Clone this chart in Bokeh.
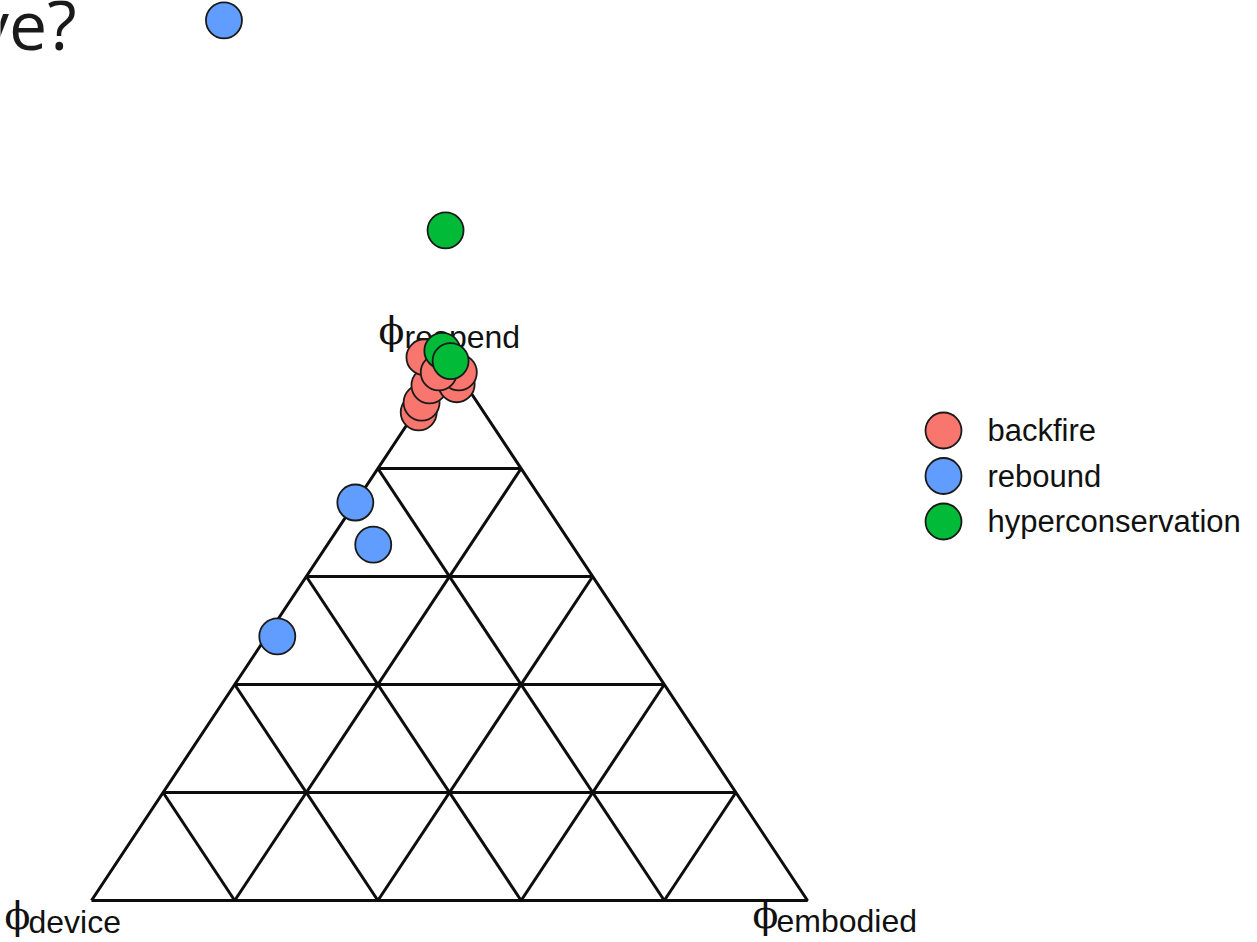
from bokeh.plotting import figure
from bokeh.models import Range1d
from bokeh.core.properties import value
from bokeh.embed import file_html
from bokeh.resources import INLINE

# Ternary shares (device, embodied, respend) for each outcome class
backfire_device = [0.091, 0.078, 0.051, 0.032, 0.012, -0.002, 0.026]
backfire_embodied = [0.005, 0.000, -0.005, -0.038, 0.032, 0.024, -0.004]
backfire_respend = [0.904, 0.922, 0.954, 1.006, 0.956, 0.978, 0.978]

rebound_device = [0.000, 0.263, 0.277, 0.496]
rebound_embodied = [-0.630, 0.000, 0.064, 0.015]
rebound_respend = [1.630, 0.737, 0.659, 0.489]

hyper_device = [-0.115, 0.001, -0.001]
hyper_embodied = [-0.126, -0.019, 0.002]
hyper_respend = [1.241, 1.018, 0.999]

categories = ["backfire", "rebound", "hyperconservation"]
colors = ["#F8766D", "#619CFF", "#00BA38"]
grid_levels = [0.2, 0.4, 0.6, 0.8]

W, H = 1257, 942
# pixel placement of the simplex: base corners and apex height
BASE_LEFT, BASE_WIDTH = 91, 716
BASE_Y, TRI_HEIGHT = 900, 540


def tern_xy(device, embodied, respend):
    """Barycentric -> cartesian: device at (0,0), embodied at (1,0), respend at (0.5,1)."""
    return embodied + respend / 2.0, respend


def px_to_data(px, py):
    return (px - BASE_LEFT) / BASE_WIDTH, (BASE_Y - py) / TRI_HEIGHT


x0, y_top = px_to_data(0, 0)
x1, y_bot = px_to_data(W, H)

p = figure(width=W, height=H, output_backend="svg", toolbar_location=None,
           x_range=Range1d(x0, x1), y_range=Range1d(y_bot, y_top),
           min_border=0, background_fill_color="white", border_fill_color="white")
p.xaxis.visible = False
p.yaxis.visible = False
p.grid.visible = False
p.outline_line_color = None

# triangle outline and 0.2 grid
xs, ys = [], []
corners = [tern_xy(1, 0, 0), tern_xy(0, 1, 0), tern_xy(0, 0, 1), tern_xy(1, 0, 0)]
xs.append([c[0] for c in corners])
ys.append([c[1] for c in corners])
for t in grid_levels:
    segs = [
        (tern_xy(1 - t, 0, t), tern_xy(0, 1 - t, t)),  # constant respend
        (tern_xy(1 - t, t, 0), tern_xy(0, t, 1 - t)),  # constant embodied
        (tern_xy(t, 1 - t, 0), tern_xy(t, 0, 1 - t)),  # constant device
    ]
    for a, b in segs:
        xs.append([a[0], b[0]])
        ys.append([a[1], b[1]])
p.multi_line(xs, ys, line_color="#0d0d0d", line_width=3)

# vertex labels: phi symbol plus subscript name
label_font = value("Liberation Sans")
phi_font = value("DejaVu Serif")
vertex_labels = [
    (tern_xy(1, 0, 0), "device", -87, -63, 21),
    (tern_xy(0, 1, 0), "embodied", -55, -31, 20),
    (tern_xy(0, 0, 1), "respend", -71, -45, -24),
]
for (vx, vy), name, phi_dx, sub_dx, dy in vertex_labels:
    p.text(x=[vx], y=[vy], text=["\u03d5"], x_offset=phi_dx, y_offset=dy - 6,
           text_font=phi_font, text_font_size="38px", text_color="#111111",
           text_baseline="alphabetic", text_align="left")
    p.text(x=[vx], y=[vy], text=[name], x_offset=sub_dx, y_offset=dy,
           text_font=label_font, text_font_size="32px", text_color="#111111",
           text_baseline="alphabetic", text_align="left")

# data points
groups = [
    (backfire_device, backfire_embodied, backfire_respend),
    (rebound_device, rebound_embodied, rebound_respend),
    (hyper_device, hyper_embodied, hyper_respend),
]
for (dev, emb, res), col in zip(groups, colors):
    pts = [tern_xy(d, e, r) for d, e, r in zip(dev, emb, res)]
    p.scatter([q[0] for q in pts], [q[1] for q in pts], size=36,
              fill_color=col, line_color="#1a1a1a", line_width=1.8)

# legend
lx, ly = px_to_data(943, 430)
step = px_to_data(0, 45.5)[1] - px_to_data(0, 0)[1]
for i, (cat, col) in enumerate(zip(categories, colors)):
    yy = ly + i * step
    p.scatter([lx], [yy], size=36, fill_color=col, line_color="#1a1a1a", line_width=1.8)
    p.text(x=[lx], y=[yy], text=[cat], x_offset=44, y_offset=0,
           text_font=label_font, text_font_size="31px", text_color="#111111",
           text_baseline="middle", text_align="left")

# heading fragment at top-left
tx, ty = px_to_data(76, 23)
p.text(x=[tx], y=[ty], text=["ve?"], text_font=value("Open Sans"),
       text_font_size="68px", text_color="#1a1a1a",
       text_baseline="alphabetic", text_align="right")

open("out.html", "w").write(file_html(p, INLINE))
